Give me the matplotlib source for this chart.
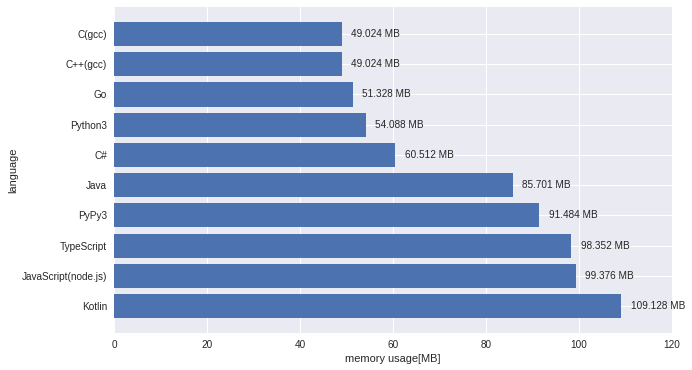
import matplotlib
matplotlib.use('Agg')
import matplotlib.pyplot as plt

languages = ['C(gcc)', 'C++(gcc)', 'Go', 'Python3', 'C#', 'Java', 'PyPy3',
             'TypeScript', 'JavaScript(node.js)', 'Kotlin']
memory = [49.024, 49.024, 51.328, 54.088, 60.512, 85.701, 91.484,
          98.352, 99.376, 109.128]

plt.style.use('seaborn-v0_8')
plt.rcParams['font.family'] = ['Liberation Sans', 'DejaVu Sans']

fig = plt.figure(figsize=(692 / 72, 370 / 72), dpi=72)
ax = fig.add_axes([0.165, 0.1, 0.806, 0.881])

# reversed so the first language ends up on top
ax.barh(languages[::-1], memory[::-1], color='#4C72B0')
for lang, m in zip(languages[::-1], memory[::-1]):
    ax.text(m + 2, lang, '%.3f MB' % m, va='center', fontsize=10, color='#262626')

ax.set_xlim(0, 120)
ax.set_xlabel('memory usage[MB]')
ax.set_ylabel('language')

fig.savefig('out.png', dpi=72)
